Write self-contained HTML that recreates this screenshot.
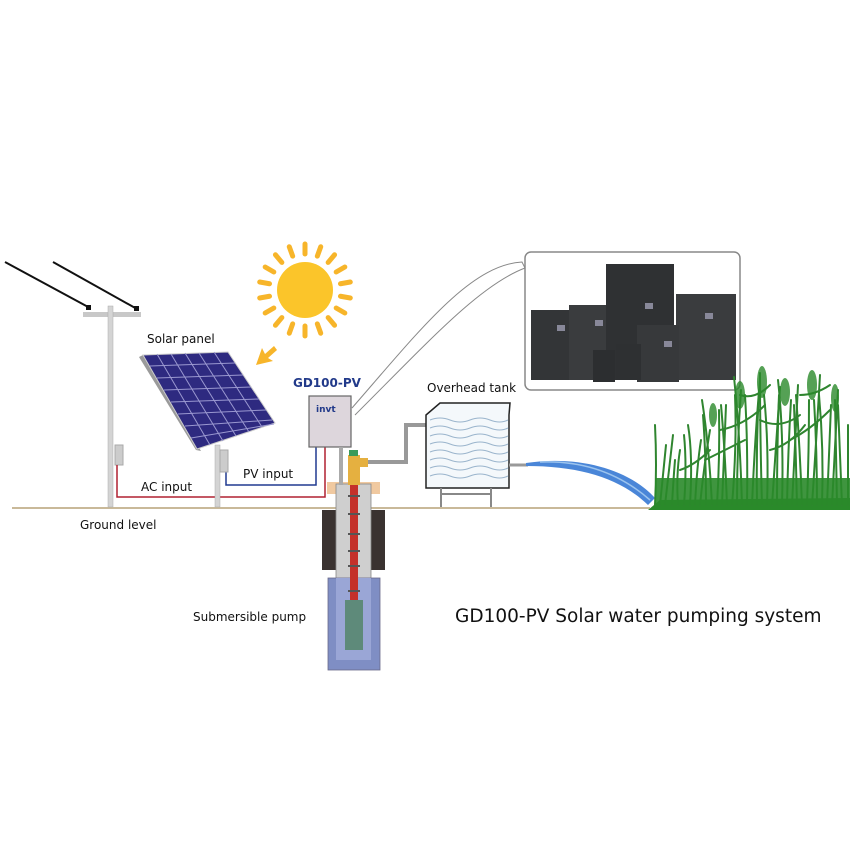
<!DOCTYPE html>
<html><head><meta charset="utf-8"><style>
html,body{margin:0;padding:0;background:#fff;}
svg{display:block;}
text{font-family:"DejaVu Sans","Liberation Sans",sans-serif;}
</style></head><body>
<svg width="850" height="850" viewBox="0 0 850 850" xmlns="http://www.w3.org/2000/svg">
<rect width="850" height="850" fill="#fff"/>
<line x1="12" y1="508" x2="650" y2="508" stroke="#c9b999" stroke-width="2"/>
<line x1="5" y1="262" x2="90" y2="308" stroke="#111" stroke-width="2"/>
<line x1="53" y1="262" x2="137" y2="309" stroke="#111" stroke-width="2"/>
<rect x="86" y="305" width="5" height="5" fill="#111"/><rect x="134" y="306" width="5" height="5" fill="#111"/>
<rect x="83" y="312" width="58" height="5" fill="#c8c8c8"/>
<rect x="108" y="306" width="5" height="201" fill="#d4d4d4" stroke="#aaa" stroke-width="0.5"/>
<rect x="115" y="445" width="8" height="20" fill="#ccc" stroke="#aaa"/>
<polyline points="117,465 117,497 325,497 325,447" fill="none" stroke="#b02030" stroke-width="1.5"/>
<polyline points="226,470 226,485 316,485 316,447" fill="none" stroke="#203a90" stroke-width="1.5"/>
<rect x="215" y="445" width="5" height="62" fill="#d4d4d4" stroke="#aaa" stroke-width="0.5"/>
<rect x="220" y="450" width="8" height="22" fill="#ccc" stroke="#aaa"/>
<polygon points="139,357 143,355 201,451 196,450" fill="#9a9a9a"/>
<polygon points="143,355 228,352 275,423 197,449" fill="#2e2a80" stroke="#ccc" stroke-width="1"/>
<g stroke="#9a98d0" stroke-width="1">
<line x1="157" y1="354" x2="210" y2="445"/><line x1="171" y1="354" x2="223" y2="441"/><line x1="185" y1="353" x2="236" y2="436"/><line x1="199" y1="353" x2="249" y2="432"/><line x1="214" y1="352" x2="262" y2="427"/>
<line x1="150" y1="366" x2="235" y2="363"/><line x1="157" y1="378" x2="243" y2="375"/><line x1="164" y1="390" x2="251" y2="387"/><line x1="171" y1="402" x2="259" y2="399"/><line x1="178" y1="414" x2="266" y2="410"/><line x1="185" y1="426" x2="272" y2="420"/><line x1="191" y1="438" x2="274" y2="424"/>
</g>
<g transform="translate(305,290)">
<circle r="28" fill="#fbc52a"/>
<g stroke="#f7b52a" stroke-width="5" stroke-linecap="round">
<line x1="0" y1="-36" x2="0" y2="-46" transform="rotate(0)"/><line x1="0" y1="-36" x2="0" y2="-46" transform="rotate(20)"/><line x1="0" y1="-36" x2="0" y2="-46" transform="rotate(40)"/><line x1="0" y1="-36" x2="0" y2="-46" transform="rotate(60)"/><line x1="0" y1="-36" x2="0" y2="-46" transform="rotate(80)"/><line x1="0" y1="-36" x2="0" y2="-46" transform="rotate(100)"/><line x1="0" y1="-36" x2="0" y2="-46" transform="rotate(120)"/><line x1="0" y1="-36" x2="0" y2="-46" transform="rotate(140)"/><line x1="0" y1="-36" x2="0" y2="-46" transform="rotate(160)"/><line x1="0" y1="-36" x2="0" y2="-46" transform="rotate(180)"/><line x1="0" y1="-36" x2="0" y2="-46" transform="rotate(200)"/><line x1="0" y1="-36" x2="0" y2="-46" transform="rotate(220)"/><line x1="0" y1="-36" x2="0" y2="-46" transform="rotate(240)"/><line x1="0" y1="-36" x2="0" y2="-46" transform="rotate(260)"/><line x1="0" y1="-36" x2="0" y2="-46" transform="rotate(280)"/><line x1="0" y1="-36" x2="0" y2="-46" transform="rotate(300)"/><line x1="0" y1="-36" x2="0" y2="-46" transform="rotate(320)"/><line x1="0" y1="-36" x2="0" y2="-46" transform="rotate(340)"/>
</g></g>
<polygon points="256,365 262,348 265,354 274,346 277,350 268,358 273,361" fill="#f7b52a"/>
<text x="147" y="343" font-size="12" fill="#111">Solar panel</text>
<text x="141" y="491" font-size="12" fill="#111">AC input</text>
<text x="243" y="478" font-size="12" fill="#111">PV input</text>
<text x="80" y="529" font-size="12" fill="#111">Ground level</text>
<text x="293" y="387" font-size="12" fill="#223a8a" font-weight="bold">GD100-PV</text>
<rect x="309" y="396" width="42" height="51" fill="#ddd6dc" stroke="#666" stroke-width="1.2"/>
<text x="316" y="412" font-size="9" font-weight="bold" fill="#223a8a">invt</text>
<path d="M352,408 C420,330 470,265 522,262 L525,268 C480,285 430,340 355,415" fill="none" stroke="#888" stroke-width="1"/>
<rect x="525" y="252" width="215" height="138" rx="6" fill="#fff" stroke="#888" stroke-width="1.5"/>
<rect x="531" y="310" width="43" height="70" fill="#333537"/>
<rect x="569" y="305" width="40" height="75" fill="#3a3c3e"/>
<rect x="606" y="264" width="68" height="116" fill="#2f3133"/>
<rect x="676" y="294" width="60" height="86" fill="#3a3c3e"/>
<rect x="637" y="325" width="42" height="57" fill="#37393b"/>
<rect x="593" y="350" width="22" height="32" fill="#2c2e30"/>
<rect x="616" y="344" width="25" height="36" fill="#2e3032"/>
<g fill="#889">
<rect x="557" y="325" width="8" height="6"/><rect x="595" y="320" width="8" height="6"/><rect x="645" y="303" width="8" height="6"/><rect x="705" y="313" width="8" height="6"/><rect x="664" y="341" width="8" height="6"/>
</g>
<rect x="327" y="482" width="53" height="12" fill="#f0c9a0"/>
<rect x="322" y="510" width="16" height="60" fill="#3a3230"/>
<rect x="369" y="510" width="16" height="60" fill="#3a3230"/>
<rect x="336" y="484" width="35" height="102" fill="#cfcfcf" stroke="#888" stroke-width="0.8"/>
<rect x="328" y="578" width="52" height="92" fill="#7f8ec4" stroke="#6a6a8a" stroke-width="0.8"/>
<rect x="336" y="578" width="35" height="82" fill="#9aa6d6"/>
<rect x="345" y="600" width="18" height="50" fill="#5e8a7a"/>
<rect x="350" y="482" width="8" height="118" fill="#c4302a"/>
<g fill="#555"><rect x="348" y="495" width="12" height="2"/><rect x="348" y="513" width="12" height="2"/><rect x="348" y="533" width="12" height="2"/><rect x="348" y="550" width="12" height="2"/><rect x="348" y="565" width="12" height="2"/><rect x="348" y="590" width="12" height="2"/></g>
<rect x="339" y="447" width="4" height="38" fill="#aaa"/>
<rect x="348" y="455" width="12" height="30" fill="#e5b040"/>
<rect x="358" y="458" width="10" height="9" fill="#e5b040"/>
<rect x="349" y="450" width="9" height="6" fill="#3a9a5a"/>
<polyline points="368,462 406,462 406,425 426,425" fill="none" stroke="#999" stroke-width="4"/>
<path d="M426,415 L440,403 L510,403 L509,415 L509,488 L426,488 Z" fill="#f4f8fb" stroke="#222" stroke-width="1.5"/>
<g fill="none" stroke="#9ab4cc" stroke-width="1">
<path d="M430,420 q10,-4 20,0 t20,0 t20,0 t18,0"/><path d="M430,428 q10,-4 20,0 t20,0 t20,0 t18,0"/><path d="M430,436 q10,-4 20,0 t20,0 t20,0 t18,0"/><path d="M430,444 q10,-4 20,0 t20,0 t20,0 t18,0"/><path d="M430,452 q10,-4 20,0 t20,0 t20,0 t18,0"/><path d="M430,460 q10,-4 20,0 t20,0 t20,0 t18,0"/><path d="M430,468 q10,-4 20,0 t20,0 t20,0 t18,0"/><path d="M430,476 q10,-4 20,0 t20,0 t20,0 t18,0"/>
</g>
<line x1="441" y1="488" x2="441" y2="507" stroke="#888" stroke-width="2"/><line x1="491" y1="488" x2="491" y2="507" stroke="#888" stroke-width="2"/>
<line x1="441" y1="494" x2="491" y2="494" stroke="#888" stroke-width="2"/>
<text x="427" y="392" font-size="12" fill="#111">Overhead tank</text>
<line x1="509" y1="465" x2="528" y2="465" stroke="#999" stroke-width="3"/>
<path d="M526,463 C580,455 630,470 655,498 L648,505 C620,478 580,466 526,466 Z" fill="#4a86d8"/>
<path d="M540,462 C590,460 625,478 650,500" fill="none" stroke="#9cc4ee" stroke-width="1.5"/>
<!-- grass -->
<path d="M648,510 L850,510 L850,498 L660,500 Z" fill="#2a8a2a"/>
<g stroke="#2f852f" stroke-width="2" fill="none" stroke-linecap="round">
<path d="M655,505 q2,-40 0,-80"/><path d="M660,505 q3,-30 6,-60"/><path d="M665,505 q4,-35 8,-70"/><path d="M672,505 q1,-20 3,-45"/><path d="M678,505 q-2,-30 2,-55"/><path d="M684,505 q3,-40 0,-70"/><path d="M690,505 q3,-50 -2,-80"/><path d="M695,505 q2,-40 6,-65"/><path d="M700,505 q4,-40 10,-75"/><path d="M706,505 q0,-50 -3,-90"/><path d="M712,505 q-3,-60 -10,-105"/><path d="M717,505 q3,-50 2,-95"/><path d="M722,505 q2,-50 4,-100"/><path d="M727,505 q-2,-55 -6,-100"/><path d="M732,505 q5,-60 3,-110"/><path d="M737,505 q0,-60 4,-115"/><path d="M742,505 q-2,-70 -8,-128"/><path d="M747,505 q1,-60 -2,-110"/><path d="M752,505 q3,-70 8,-125"/><path d="M757,505 q-1,-60 2,-115"/><path d="M762,505 q-2,-70 -2,-132"/><path d="M767,505 q2,-60 -3,-110"/><path d="M772,505 q4,-60 8,-118"/><path d="M777,505 q0,-60 2,-110"/><path d="M782,505 q2,-70 -4,-125"/><path d="M787,505 q1,-55 4,-105"/><path d="M792,505 q3,-60 6,-120"/><path d="M797,505 q-1,-50 -3,-100"/><path d="M802,505 q-2,-55 -6,-110"/><path d="M807,505 q2,-55 2,-105"/><path d="M812,505 q4,-60 8,-130"/><path d="M817,505 q0,-55 -3,-105"/><path d="M822,505 q2,-55 -3,-110"/><path d="M827,505 q2,-50 4,-100"/><path d="M832,505 q3,-60 6,-115"/><path d="M837,505 q-1,-55 -2,-105"/><path d="M842,505 q-2,-50 -4,-100"/><path d="M848,505 q0,-40 0,-80"/>
<path d="M705,460 q20,-10 40,-20"/><path d="M720,430 q25,-5 45,-25"/><path d="M760,420 q20,10 40,-5"/><path d="M790,440 q20,-10 40,-30"/><path d="M740,395 q15,5 30,-10"/><path d="M800,395 q15,0 30,-10"/><path d="M680,470 q15,-5 30,-20"/><path d="M770,450 q20,-5 35,-25"/>
</g>
<g fill="#2a8a2a">
<rect x="655" y="478" width="195" height="27" opacity="0.9"/>
<ellipse cx="740" cy="395" rx="5" ry="14" opacity="0.8"/><ellipse cx="762" cy="382" rx="5" ry="16" opacity="0.8"/><ellipse cx="785" cy="392" rx="5" ry="14" opacity="0.8"/><ellipse cx="812" cy="385" rx="5" ry="15" opacity="0.8"/><ellipse cx="835" cy="398" rx="4" ry="14" opacity="0.8"/><ellipse cx="713" cy="415" rx="4" ry="12" opacity="0.8"/>
</g>
<text x="193" y="621" font-size="12" fill="#111">Submersible pump</text>
<text x="455" y="622" font-size="18.5" fill="#111">GD100-PV Solar water pumping system</text>
</svg>
</body></html>
